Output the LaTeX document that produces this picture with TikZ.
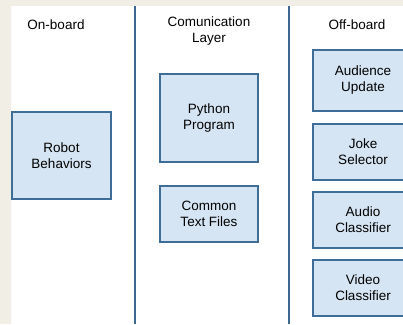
\documentclass[tikz,border=0pt]{standalone}
\usepackage{fontspec}
\setmainfont{Liberation Sans}
\definecolor{beige}{HTML}{F1EEE5}
\definecolor{boxfill}{HTML}{D6E5F3}
\definecolor{boxline}{HTML}{3E6E98}
\definecolor{sepline}{HTML}{3A6690}
\begin{document}
\begin{tikzpicture}[x=1pt,y=-1pt,
  lbl/.style={font=\fontsize{13.5}{16}\selectfont, align=center, inner sep=0pt},
  comp/.style={draw=boxline, line width=1.4pt, fill=boxfill, minimum width=98pt, inner sep=0pt,
    font=\fontsize{13.5}{16}\selectfont, align=center}]
\useasboundingbox (0,0) rectangle (403,324);
\clip (0,0) rectangle (403,324);
\fill[beige] (0,0) rectangle (403,324);
\fill[white] (11,6) rectangle (403,324);
\draw[white!85!beige, line width=0.8pt] (11.4,6) -- (11.4,324);
% separators
\coordinate (s1t) at (135,6); \coordinate (s1b) at (135,324);
\coordinate (s2t) at (289,6); \coordinate (s2b) at (289,324);
\draw[sepline, line width=1.3pt] (s1t) -- (s1b);
\draw[sepline, line width=1.3pt] (s2t) -- (s2b);
% headings
\node[lbl] (h1) at (56,25) {On-board};
\node[lbl] (h2) at (209,31) {Comunication\\Layer};
\node[lbl] (h3) at (357,25) {Off-board};
% boxes
\node[comp, minimum width=99pt, minimum height=87pt] (rb) at (61.5,155.5) {Robot\\Behaviors};
\node[comp, minimum height=88pt] (pp) at (209,118) {Python\\Program};
\node[comp, minimum height=56pt] (ct) at (209,214) {Common\\Text Files};
\node[comp, minimum width=100pt, minimum height=61pt] (au) at (363,80.5) {Audience\\Update};
\node[comp, minimum width=100pt, minimum height=56pt] (js) at (363,152) {Joke\\Selector};
\node[comp, minimum width=100pt, minimum height=56pt] (ac) at (363,220) {Audio\\Classifier};
\node[comp, minimum width=100pt, minimum height=56pt] (vc) at (363,288) {Video\\Classifier};
\end{tikzpicture}
\end{document}
